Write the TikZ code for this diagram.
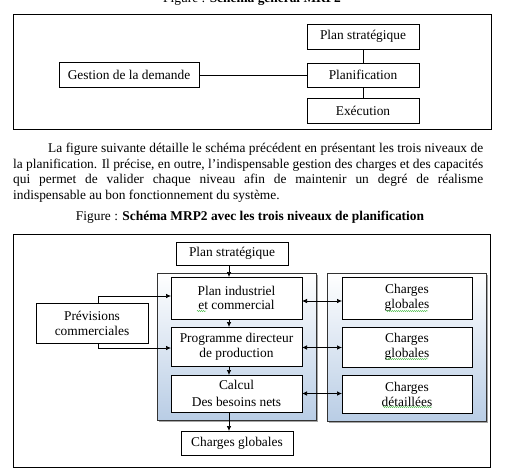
\documentclass[tikz,border=0pt]{standalone}
\usepackage{fontspec}
\setmainfont{Liberation Serif}
\usetikzlibrary{arrows.meta,calc,decorations.pathmorphing}
\definecolor{panelblue}{RGB}{185,205,229}
\begin{document}
\begin{tikzpicture}[x=1pt,y=-1pt,
  box/.style={draw=black, line width=0.8pt, fill=white, inner sep=0pt, outer sep=0pt, align=center, font=\fontsize{13.4}{15}\selectfont},
  frame/.style={draw=black, line width=0.8pt, inner sep=0pt, outer sep=0pt},
  link/.style={line width=0.8pt},
  arr/.style={line width=0.7pt,-{Latex[length=5pt,width=4.5pt]}},
  darr/.style={line width=0.7pt,{Latex[length=5pt,width=4.5pt]}-{Latex[length=5pt,width=4.5pt]}},
  panel/.style={draw=black!80, line width=0.8pt, inner sep=0pt, outer sep=0pt, top color=white, bottom color=panelblue},
  txt/.style={font=\fontsize{13.4}{15.5}\selectfont, inner sep=0pt},
  squig/.style={draw=green!45!gray, line width=0.4pt, decorate, decoration={snake, amplitude=0.6pt, segment length=2pt}}
]
\useasboundingbox (0,0) rectangle (519,474);

% clipped caption at the very top (only its lower part shows)
\begin{scope}
\clip (0,0) rectangle (519,474);
\node[txt, anchor=base] (cap0) at (252,2.5) {Figure : \textbf{Schéma général MRP2}};
\end{scope}

% ---------- first figure ----------
\node[frame, minimum width=478pt, minimum height=115pt] (f1) at (252,71.5) {};
\node[box, minimum width=112pt, minimum height=25pt] (ps1) at (363,36.5) {Plan stratégique};
\node[box, minimum width=112pt, minimum height=24pt] (pla) at (363,75) {Planification};
\node[box, minimum width=112pt, minimum height=25pt] (exe) at (363,110.5) {Exécution};
\node[box, minimum width=140pt, minimum height=25pt] (gest) at (129,75) {Gestion de la demande};
\draw[link] (ps1) -- (pla);
\draw[link] (pla) -- (exe);
\draw[link] (gest.east) -- (gest.east -| pla.west);

% ---------- paragraph ----------
\node[txt, anchor=base west] (l1) at (48,152.5) {\makebox[435pt][s]{La figure suivante détaille le schéma précédent en présentant les trois niveaux de}};
\node[txt, anchor=base west] (l2) at (13,168) {\makebox[470pt][s]{la planification. Il précise, en outre, l’indispensable gestion des charges et des capacités}};
\node[txt, anchor=base west] (l3) at (13,183.5) {\makebox[470pt][s]{qui permet de valider chaque niveau afin de maintenir un degré de réalisme}};
\node[txt, anchor=base west] (l4) at (13,199) {indispensable au bon fonctionnement du système.};
\node[txt, anchor=base] (cap) at (250,220) {Figure : \textbf{Schéma MRP2 avec les trois niveaux de planification}};

% ---------- second figure ----------
\node[frame, minimum width=477pt, minimum height=233pt] (f2) at (251.5,350.5) {};

\fill[black!35] (158.5,274.5) rectangle (317.5,421.5);
\node[panel, minimum width=159pt, minimum height=147pt] (pl) at (236.5,346.5) {};
\fill[black!35] (328.5,274.5) rectangle (487.5,422.5);
\node[panel, minimum width=159pt, minimum height=148pt] (pr) at (406.5,347) {};

\node[box, minimum width=112pt, minimum height=23pt] (ps2) at (232,253.5) {Plan stratégique};
\node[box, minimum width=131pt, minimum height=42pt] (pic) at (236.5,298) {Plan industriel\\[-1pt]et commercial};
\node[box, minimum width=131pt, minimum height=39pt] (pdp) at (236.5,346.5) {Programme directeur\\de production};
\node[box, minimum width=131pt, minimum height=37pt] (calc) at (236.5,393.5) {Calcul\\[2pt]Des besoins nets};
\node[box, minimum width=112pt, minimum height=24pt] (cg) at (237,443) {Charges globales};

\node[box, minimum width=130pt, minimum height=42pt] (r1) at (407,298) {Charges\\globales};
\node[box, minimum width=130pt, minimum height=40pt] (r2) at (407,347) {Charges\\globales};
\node[box, minimum width=130pt, minimum height=38pt] (r3) at (407,394) {Charges\\détaillées};

\node[box, minimum width=112pt, minimum height=40pt] (prev) at (92,323) {Prévisions\\commerciales};

% vertical arrows
\coordinate (vx) at (229,0);
\draw[arr] (ps2.south -| vx) -- (pic.north -| vx);
\draw[arr] (pic.south -| vx) -- (pdp.north -| vx);
\draw[arr] (pdp.south -| vx) -- (calc.north -| vx);
\draw[arr] (calc.south -| vx) -- (cg.north -| vx);

% forecasts
\coordinate (px) at (98,0);
\draw[arr] (prev.north -| px) |- ([yshift=2pt]pic.west);
\draw[arr] (prev.south -| px) |- ([yshift=-1.5pt]pdp.west);

% double arrows
\draw[darr] ([yshift=-3pt]pic.east) -- ([yshift=-3pt]pic.east -| r1.west);
\draw[darr] ([yshift=-1pt]pdp.east) -- ([yshift=-1pt]pdp.east -| r2.west);
\draw[darr] (calc.east) -- (calc.east -| r3.west);

% spell-check squiggles
\draw[squig] ($(pic.center)+(-39.5,13)$) -- ++(9,0);
\draw[squig] ($(r1.center)+(-21,13)$) -- ++(42,0);
\draw[squig] ($(r2.center)+(-21,12)$) -- ++(42,0);
\draw[squig] ($(r3.center)+(-24,13)$) -- ++(49,0);
\end{tikzpicture}
\end{document}
